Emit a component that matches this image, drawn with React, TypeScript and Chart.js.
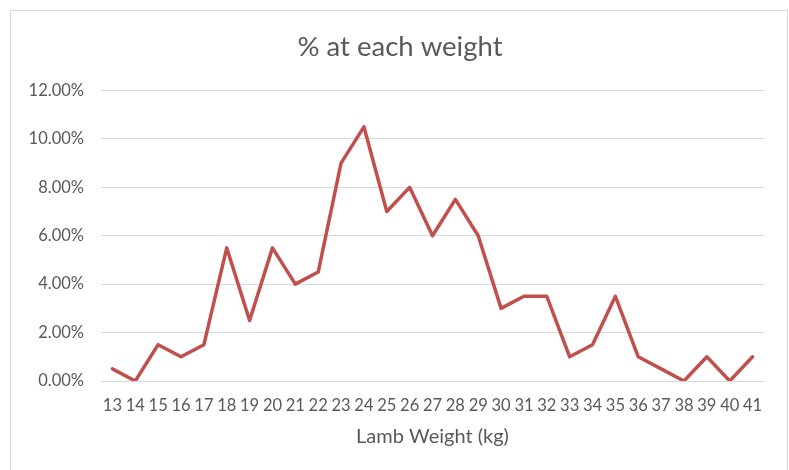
import React, { useEffect, useRef } from "react";
import { Chart, registerables } from "chart.js";

Chart.register(...registerables);

const weights: string[] = [
  "13", "14", "15", "16", "17", "18", "19", "20", "21", "22", "23", "24", "25", "26", "27",
  "28", "29", "30", "31", "32", "33", "34", "35", "36", "37", "38", "39", "40", "41",
];
const percentAtWeight: number[] = [
  0.5, 0, 1.5, 1.0, 1.5, 5.5, 2.5, 5.5, 4.0, 4.5, 9.0, 10.5, 7.0, 8.0, 6.0,
  7.5, 6.0, 3.0, 3.5, 3.5, 1.0, 1.5, 3.5, 1.0, 0.5, 0, 1.0, 0, 1.0,
];
const yMin = 0;
const yMax = 12;
const yStep = 2;

const chartTitle = "% at each weight";
const xTitle = "Lamb Weight (kg)";

const FONT = "Lato, 'Open Sans', sans-serif";
const TEXT = "#595959";
const GRID = "#d9d9d9";

const frame = {
  id: "frame",
  beforeDraw(chart: any) {
    const { ctx, width, height } = chart;
    ctx.save();
    ctx.fillStyle = "#ffffff";
    ctx.fillRect(0, 0, width, height);
    ctx.strokeStyle = GRID;
    ctx.lineWidth = 1;
    ctx.strokeRect(10.5, 10.5, width - 12, height + 20);
    ctx.restore();
  },
};

export default function App() {
  const ref = useRef<HTMLCanvasElement | null>(null);
  useEffect(() => {
    if (!ref.current) return;
    const chart = new Chart(ref.current, {
      type: "line",
      data: {
        labels: weights,
        datasets: [
          {
            data: percentAtWeight,
            borderColor: "#C0504D",
            borderWidth: 3.5,
            pointRadius: 0,
            tension: 0,
            borderJoinStyle: "round",
            borderCapStyle: "round",
          },
        ],
      },
      options: {
        responsive: false,
        animation: false,
        layout: { padding: { left: 11, right: 0, top: 0, bottom: 0 } },
        plugins: {
          legend: { display: false },
          tooltip: { enabled: false },
          title: {
            display: true,
            text: chartTitle,
            color: TEXT,
            font: { family: FONT, size: 27.5, weight: "normal" },
            padding: { top: 30.5, bottom: 27 },
          },
        },
        scales: {
          x: {
            offset: true,
            grid: { display: false, drawTicks: false },
            border: { display: true, color: GRID, width: 1 },
            ticks: {
              color: TEXT,
              font: { family: FONT, size: 16.5 },
              padding: 15,
              autoSkip: false,
              maxRotation: 0,
              minRotation: 0,
            },
            title: {
              display: true,
              text: xTitle,
              color: TEXT,
              font: { family: FONT, size: 20 },
              padding: { top: 0, bottom: 21 },
            },
            afterFit(scale: any) {
              scale.height = 89;
            },
          },
          y: {
            min: yMin,
            max: yMax,
            grid: { color: GRID, lineWidth: 1, drawTicks: false },
            border: { display: false },
            ticks: {
              stepSize: yStep,
              color: TEXT,
              font: { family: FONT, size: 16.5 },
              padding: 17,
              callback: (v: any) => Number(v).toFixed(2) + "%",
            },
            afterFit(scale: any) {
              scale.width = 90;
            },
          },
          yRightSpace: {
            position: "right",
            display: true,
            grid: { display: false, drawTicks: false },
            border: { display: false },
            ticks: { display: false },
            afterFit(scale: any) {
              scale.width = 25;
            },
          },
        },
      },
      plugins: [frame],
    });
    return () => chart.destroy();
  }, []);
  return (
    <div style={{ position: "absolute", left: 0, top: 0, width: 789, height: 470 }}>
      <canvas ref={ref} width={789} height={470} style={{ width: 789, height: 470 }} />
    </div>
  );
}
